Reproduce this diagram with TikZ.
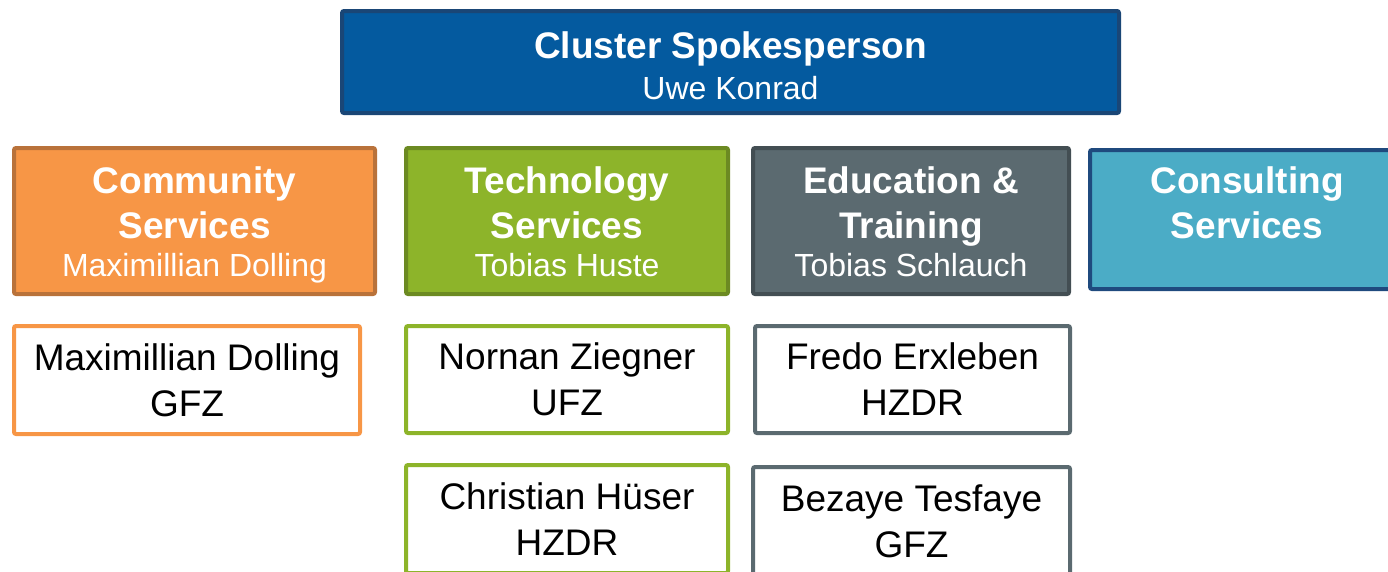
\documentclass[tikz,border=0pt]{standalone}
\usepackage{fontspec}
\setmainfont{Liberation Sans}
\definecolor{leadfill}{HTML}{045A9F}
\definecolor{leadedge}{HTML}{1A4676}
\definecolor{orfill}{HTML}{F79646}
\definecolor{oredge}{HTML}{B9723A}
\definecolor{grfill}{HTML}{8DB42A}
\definecolor{gredge}{HTML}{6C8A22}
\definecolor{slfill}{HTML}{5B6A70}
\definecolor{sledge}{HTML}{434E53}
\definecolor{aqfill}{HTML}{4BACC6}
\definecolor{aqedge}{HTML}{1F4A7E}
\tikzset{
  unitbox/.style={draw, line width=4pt, rounded corners=2pt, inner sep=0pt,
    align=center, text=white, font=\fontsize{37}{45}\selectfont\bfseries},
  member/.style={draw, line width=4pt, rounded corners=2pt, inner sep=0pt,
    fill=white, align=center, text=black, font=\fontsize{37}{46}\selectfont}
}
% head line padding and the lighter name line under a unit title
\newcommand{\headpad}[1]{\rule{0pt}{#1}}
\newcommand{\lead}[1]{{\fontsize{32}{38}\selectfont\mdseries\vphantom{Tg}#1}}
\begin{document}
\begin{tikzpicture}[x=1pt,y=-1pt]
\useasboundingbox (0,0) rectangle (1388,571);
\clip (0,0) rectangle (1388,571);
% spokesperson
\node[unitbox, fill=leadfill, draw=leadedge, minimum width=777pt, minimum height=102pt]
  (spokes) at (730.5,62) {\headpad{40pt}Cluster Spokesperson\\[-4pt]\lead{Uwe Konrad}};
% units
\node[unitbox, fill=orfill, draw=oredge, minimum width=361pt, minimum height=146pt]
  (community) at (194.5,221) {\headpad{35pt}Community\\Services\\[-7pt]\lead{Maximillian Dolling}};
\node[unitbox, fill=grfill, draw=gredge, minimum width=322pt, minimum height=146pt]
  (technology) at (567,221) {\headpad{35pt}Technology\\Services\\[-7pt]\lead{Tobias Huste}};
\node[unitbox, fill=slfill, draw=sledge, minimum width=316pt, minimum height=146pt]
  (education) at (911,221) {\headpad{35pt}Education \&\\Training\\[-7pt]\lead{Tobias Schlauch}};
\node[unitbox, fill=aqfill, draw=aqedge, minimum width=314pt, minimum height=139pt]
  (consulting) at (1247,219.5) {\headpad{38pt}Consulting\\Services\\[-7pt]\lead{}};
% members
\node[member, draw=orfill, minimum width=346pt, minimum height=108pt]
  (dolling) at (187,380) {Maximillian Dolling\\GFZ};
\node[member, draw=grfill, minimum width=322pt, minimum height=107pt]
  (ziegner) at (567,379.5) {Nornan Ziegner\\UFZ};
\node[member, draw=slfill, minimum width=315pt, minimum height=107pt]
  (erxleben) at (912.5,379.5) {Fredo Erxleben\\HZDR};
\node[member, draw=grfill, minimum width=322pt, minimum height=108pt]
  (hueser) at (567,519) {Christian Hüser\\HZDR};
\node[member, draw=slfill, minimum width=317pt, minimum height=108pt]
  (tesfaye) at (911.5,521) {Bezaye Tesfaye\\GFZ};
\end{tikzpicture}
\end{document}
